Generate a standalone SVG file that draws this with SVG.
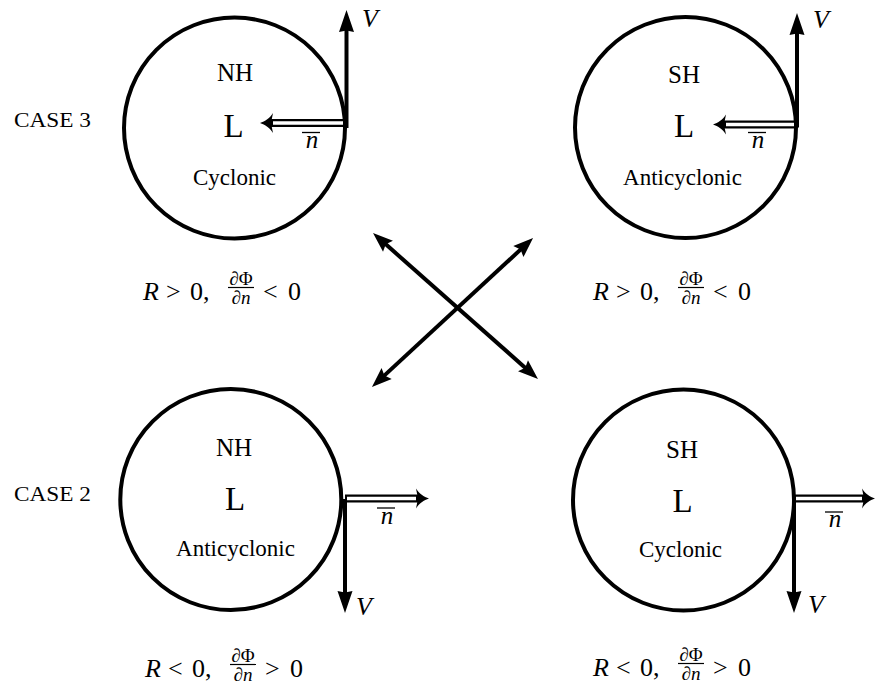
<svg xmlns="http://www.w3.org/2000/svg" width="875" height="687" viewBox="0 0 875 687" font-family="'Liberation Serif','DejaVu Serif',serif">
<style>
text{font-family:"Liberation Serif","DejaVu Serif",serif;fill:#000}
.ring{fill:none;stroke:#000;stroke-width:4}
.hem{font-size:25px;text-anchor:middle}
.big{font-size:33px;text-anchor:middle}
.kind{font-size:23px;text-anchor:middle}
.case{font-size:20px}
.it{font-style:italic;font-size:26px}
.nb{font-style:italic;font-size:25px;text-anchor:middle}
.ob{stroke:#000;stroke-width:1.3}
.m{font-size:26px}
.fr{font-size:19px;text-anchor:middle}
.vel{fill:none;stroke:#000;stroke-width:4}
.nout{fill:none;stroke:#000;stroke-width:8}
.nin{fill:none;stroke:#fff;stroke-width:3.5}
.x{fill:none;stroke:#000;stroke-width:4}
.bar{stroke:#000;stroke-width:1.2}
</style>
<defs>
<marker id="hv" markerUnits="userSpaceOnUse" markerWidth="24" markerHeight="16" viewBox="0 -8 24 16" refX="3" refY="0" orient="auto" overflow="visible">
<path d="M0,-7.5 L22,0 L0,7.5 L1.5,0 z" fill="#000"/>
</marker>
<marker id="hn" markerUnits="userSpaceOnUse" markerWidth="16" markerHeight="22" viewBox="0 -11 16 22" refX="3" refY="0" orient="auto" overflow="visible">
<path d="M14,0 C9,-1.5 4,-5 1,-10 L3,0 L1,10 C4,5 9,1.5 14,0 z" fill="#000"/>
</marker>
<marker id="hx" markerUnits="userSpaceOnUse" markerWidth="22" markerHeight="18" viewBox="0 -9 22 18" refX="4" refY="0" orient="auto-start-reverse" overflow="visible">
<path d="M0,-7.5 L20,0 L0,7.5 L3,0 z" fill="#000"/>
</marker>
</defs>

<text class="case" x="14" y="127" textLength="77" lengthAdjust="spacingAndGlyphs">CASE 3</text>
<text class="case" x="14" y="501" textLength="77" lengthAdjust="spacingAndGlyphs">CASE 2</text>

<g id="nh-cyclonic-top">
<circle class="ring" cx="234.5" cy="128" r="110.5"/>
<text class="hem" x="235" y="81">NH</text>
<text class="big" x="233.5" y="137">L</text>
<text class="kind" x="234.5" y="185">Cyclonic</text>
</g>

<g id="sh-anticyclonic-top">
<circle class="ring" cx="685.5" cy="127.5" r="110.5"/>
<text class="hem" x="684" y="83">SH</text>
<text class="big" x="684" y="137">L</text>
<text class="kind" x="682.5" y="185">Anticyclonic</text>
</g>

<g id="nh-anticyclonic-bottom">
<circle class="ring" cx="230.8" cy="499.5" r="110.5"/>
<text class="hem" x="234" y="456">NH</text>
<text class="big" x="235" y="510">L</text>
<text class="kind" x="235.5" y="556">Anticyclonic</text>
</g>

<g id="sh-cyclonic-bottom">
<circle class="ring" cx="683.5" cy="500" r="110.5"/>
<text class="hem" x="682" y="458">SH</text>
<text class="big" x="682.5" y="512">L</text>
<text class="kind" x="680.5" y="557">Cyclonic</text>
</g>

<g id="connectors">
<path class="vel" d="M346.5,128 V29" marker-end="url(#hv)"/>
<path class="vel" d="M797,127.5 V32" marker-end="url(#hv)"/>
<path class="vel" d="M345,499 V594" marker-end="url(#hv)"/>
<path class="vel" d="M794,500 V594" marker-end="url(#hv)"/>
<path class="nout" d="M345,123 H271" marker-end="url(#hn)"/>
<path class="nin" d="M343,123 H273"/>
<path class="nout" d="M796,124.5 H724" marker-end="url(#hn)"/>
<path class="nin" d="M794,124.5 H726"/>
<path class="nout" d="M345,498.5 H418" marker-end="url(#hn)"/>
<path class="nin" d="M347,498.5 H416"/>
<path class="nout" d="M794,498.5 H864" marker-end="url(#hn)"/>
<path class="nin" d="M796,498.5 H862"/>
<path class="x" d="M385,243.6 L526,368.4" marker-start="url(#hx)" marker-end="url(#hx)"/>
<path class="x" d="M521.3,248.9 L383.7,376.1" marker-start="url(#hx)" marker-end="url(#hx)"/>
</g>

<g id="labels">
<text class="it" x="362" y="27">V</text>
<text class="it" x="813" y="28">V</text>
<text class="it" x="356" y="615">V</text>
<text class="it" x="808" y="613">V</text>
<text class="nb" x="312" y="148">n</text>
<line class="ob" x1="302" y1="132.5" x2="320" y2="132.5"/>
<text class="nb" x="758" y="148">n</text>
<line class="ob" x1="748" y1="132.5" x2="766" y2="132.5"/>
<text class="nb" x="387" y="524">n</text>
<line class="ob" x1="377" y1="508" x2="395" y2="508"/>
<text class="nb" x="835" y="527">n</text>
<line class="ob" x1="825" y1="512" x2="843" y2="512"/>
</g>

<g id="formula-tl" transform="translate(143,300)">
<text class="it" x="0" y="0">R</text>
<text class="m" x="23" y="0">&gt;</text>
<text class="m" x="47" y="0">0</text>
<text class="m" x="60" y="0">,</text>
<text class="fr" x="98" y="-15">∂Φ</text>
<line class="bar" x1="85" y1="-12.5" x2="111" y2="-12.5"/>
<text class="fr" x="98" y="4">∂<tspan font-style="italic">n</tspan></text>
<text class="m" x="120" y="0">&lt;</text>
<text class="m" x="145" y="0">0</text>
</g>

<g id="formula-tr" transform="translate(593,300)">
<text class="it" x="0" y="0">R</text>
<text class="m" x="23" y="0">&gt;</text>
<text class="m" x="47" y="0">0</text>
<text class="m" x="60" y="0">,</text>
<text class="fr" x="98" y="-15">∂Φ</text>
<line class="bar" x1="85" y1="-12.5" x2="111" y2="-12.5"/>
<text class="fr" x="98" y="4">∂<tspan font-style="italic">n</tspan></text>
<text class="m" x="120" y="0">&lt;</text>
<text class="m" x="145" y="0">0</text>
</g>

<g id="formula-bl" transform="translate(145,677)">
<text class="it" x="0" y="0">R</text>
<text class="m" x="23" y="0">&lt;</text>
<text class="m" x="47" y="0">0</text>
<text class="m" x="60" y="0">,</text>
<text class="fr" x="98" y="-15">∂Φ</text>
<line class="bar" x1="85" y1="-12.5" x2="111" y2="-12.5"/>
<text class="fr" x="98" y="4">∂<tspan font-style="italic">n</tspan></text>
<text class="m" x="120" y="0">&gt;</text>
<text class="m" x="145" y="0">0</text>
</g>

<g id="formula-br" transform="translate(593,676)">
<text class="it" x="0" y="0">R</text>
<text class="m" x="23" y="0">&lt;</text>
<text class="m" x="47" y="0">0</text>
<text class="m" x="60" y="0">,</text>
<text class="fr" x="98" y="-15">∂Φ</text>
<line class="bar" x1="85" y1="-12.5" x2="111" y2="-12.5"/>
<text class="fr" x="98" y="4">∂<tspan font-style="italic">n</tspan></text>
<text class="m" x="120" y="0">&gt;</text>
<text class="m" x="145" y="0">0</text>
</g>
</svg>
